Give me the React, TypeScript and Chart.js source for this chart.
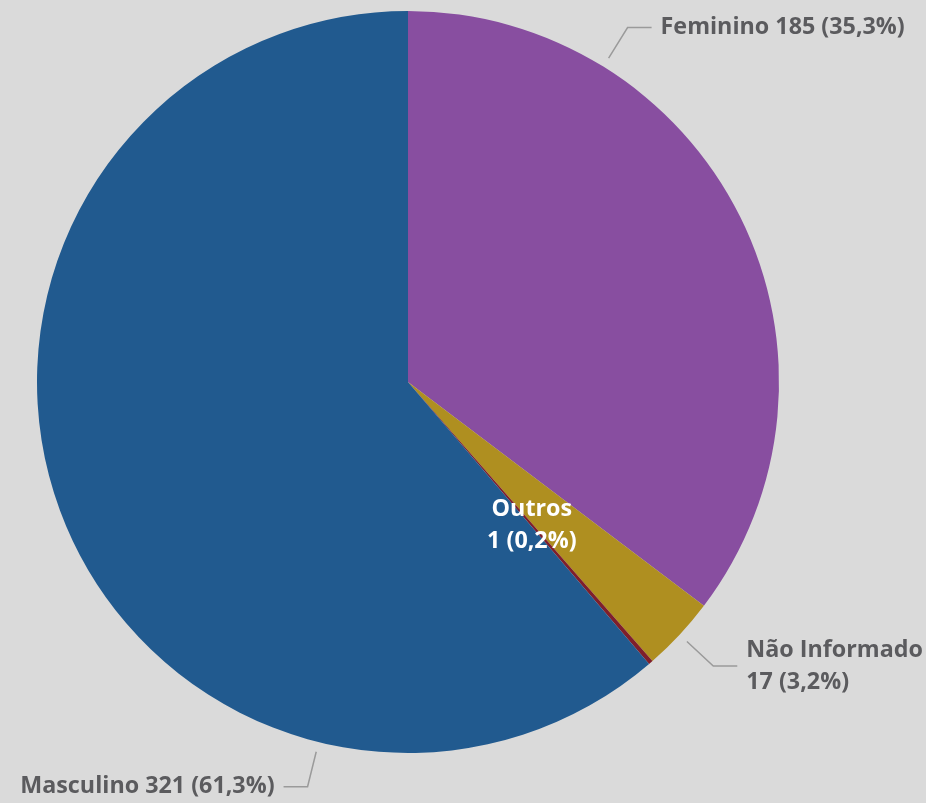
import React, { useEffect, useRef } from "react";
import { Chart, registerables } from "chart.js";

Chart.register(...registerables);

const categories = ["Feminino", "Não Informado", "Outros", "Masculino"];
const values = [185, 17, 1, 321];
const colors = ["#884EA0", "#AF8F20", "#7F1F2B", "#215A8F"];

// label layout (style only): where along each slice the label is anchored
const labelModes = ["outside", "outside", "inside", "outside"];
const labelAnchorFrac = [0.25, 0.5, 0.5, 0.247];
const labelSplit = [false, true, true, false];

const FONT = "bold 23.3px 'Open Sans', 'Noto Sans', sans-serif";
const TEXT_COLOR = "#5B5B5E";
const LINE_COLOR = "#9A9A9A";

function fmtPct(v: number, total: number) {
  return (v / total * 100).toFixed(1).replace(".", ",") + "%";
}

const labelPlugin = {
  id: "pieLabels",
  afterDatasetsDraw(chart: any) {
    const ctx = chart.ctx;
    const meta = chart.getDatasetMeta(0);
    const total = values.reduce((a, b) => a + b, 0);
    ctx.save();
    ctx.font = FONT;
    ctx.textBaseline = "middle";
    meta.data.forEach((arc: any, i: number) => {
      const { x, y, startAngle, endAngle, outerRadius } = arc.getProps(
        ["x", "y", "startAngle", "endAngle", "outerRadius"],
        true
      );
      const a = startAngle + (endAngle - startAngle) * labelAnchorFrac[i];
      const cos = Math.cos(a);
      const sin = Math.sin(a);
      const valueText = `${values[i]} (${fmtPct(values[i], total)})`;
      const lines = labelSplit[i]
        ? [categories[i], valueText]
        : [`${categories[i]} ${valueText}`];
      const lh = 32;
      if (labelModes[i] === "inside") {
        const r = outerRadius * 0.51;
        const cx = x + cos * r;
        const cy = y + sin * r;
        ctx.fillStyle = "#FFFFFF";
        ctx.textAlign = "center";
        lines.forEach((t, k) => {
          ctx.fillText(t, cx, cy + (k - (lines.length - 1) / 2) * lh);
        });
        return;
      }
      const r0 = outerRadius + 10;
      const r1 = outerRadius + 46;
      const sx = x + cos * r0;
      const sy = y + sin * r0;
      const ex = x + cos * r1;
      const ey = y + sin * r1;
      const right = cos >= 0;
      const hx = ex + (right ? 24 : -24);
      ctx.strokeStyle = LINE_COLOR;
      ctx.lineWidth = 1.5;
      ctx.beginPath();
      ctx.moveTo(sx, sy);
      ctx.lineTo(ex, ey);
      ctx.lineTo(hx, ey);
      ctx.stroke();
      ctx.fillStyle = TEXT_COLOR;
      ctx.textAlign = right ? "left" : "right";
      const tx = hx + (right ? 9 : -9);
      lines.forEach((t, k) => {
        ctx.fillText(t, tx, ey + (k - (lines.length - 1) / 2) * lh);
      });
    });
    ctx.restore();
  },
};

export default function App() {
  const ref = useRef<HTMLCanvasElement | null>(null);
  useEffect(() => {
    document.body.style.margin = "0";
    document.body.style.background = "#DADADA";
    const chart = new Chart(ref.current as HTMLCanvasElement, {
      type: "pie",
      data: {
        labels: categories,
        datasets: [
          {
            data: values,
            backgroundColor: colors,
            borderWidth: 0,
          },
        ],
      },
      options: {
        responsive: false,
        animation: false,
        layout: { padding: { left: 37, right: 147, top: 11, bottom: 50 } },
        plugins: {
          legend: { display: false },
          tooltip: { enabled: false },
        },
      },
      plugins: [labelPlugin],
    });
    return () => chart.destroy();
  }, []);
  return (
    <div style={{ width: 926, height: 803, background: "#DADADA" }}>
      <canvas ref={ref} width={926} height={803} style={{ display: "block" }} />
    </div>
  );
}
